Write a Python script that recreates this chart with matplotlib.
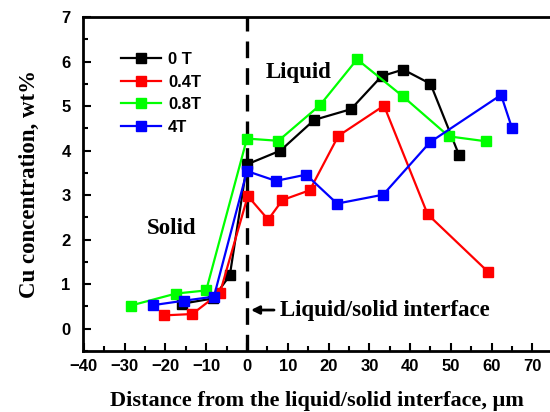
import matplotlib.pyplot as plt

# Cu concentration profiles across the liquid/solid interface
x_0T = [-16, -8.3, -4.2, 0, 8.2, 16.5, 25.5, 33, 38.3, 45, 52]
y_0T = [0.56, 0.68, 1.2, 3.69, 4.0, 4.69, 4.93, 5.67, 5.82, 5.5, 3.9]

x_04T = [-20.3, -13.4, -6.6, 0.2, 5.2, 8.7, 15.4, 22.4, 33.6, 44.3, 59.2]
y_04T = [0.30, 0.33, 0.81, 2.98, 2.45, 2.89, 3.11, 4.33, 5.01, 2.57, 1.27]

x_08T = [-28.5, -17.4, -10, 0, 7.7, 17.9, 27, 38.2, 49.5, 58.5]
y_08T = [0.52, 0.79, 0.86, 4.27, 4.22, 5.02, 6.05, 5.22, 4.32, 4.21]

x_4T = [-23, -15.4, -8.1, 0, 7.1, 14.5, 22.1, 33.4, 44.9, 62.3, 65]
y_4T = [0.53, 0.63, 0.72, 3.54, 3.32, 3.46, 2.81, 3.01, 4.19, 5.25, 4.5]

series = [
    ("0 T", x_0T, y_0T, "black"),
    ("0.4T", x_04T, y_04T, "#ff0000"),
    ("0.8T", x_08T, y_08T, "#00ff00"),
    ("4T", x_4T, y_4T, "#0000ff"),
]

serif = ["Liberation Serif", "DejaVu Serif"]
sans = ["Liberation Sans", "DejaVu Sans"]

fig = plt.figure(figsize=(5.5, 4.12), dpi=100)
ax = fig.add_axes([83 / 550, 1 - 351 / 412, 467 / 550, 334 / 412])

for label, xs, ys, c in series:
    ax.plot(xs, ys, color=c, lw=1.6, marker="s", ms=6.5, label=label, zorder=3)

# interface
ax.axvline(0, color="black", lw=2.4, ls=(0, (5, 3)), zorder=2)

ax.set_xlim(-40.2, 74.3)
ax.set_ylim(-0.5, 7)
ax.set_xticks(range(-40, 71, 10))
ax.set_xticks(range(-35, 75, 10), minor=True)
ax.set_yticks(range(0, 8))
ax.set_yticks([i + 0.5 for i in range(-1, 7)], minor=True)
ax.tick_params(which="both", direction="in", width=1.5, labelsize=12, pad=6)
ax.tick_params(which="major", length=6)
ax.tick_params(which="minor", length=3.5)
ax.tick_params(axis="y", pad=9)
for lab in ax.get_xticklabels() + ax.get_yticklabels():
    lab.set_fontfamily(sans)
    lab.set_fontweight("bold")

for s in ["left", "bottom", "top"]:
    ax.spines[s].set_linewidth(2)
ax.spines["right"].set_visible(False)

ax.set_xlabel("Distance from the liquid/solid interface, μm", family=serif,
              fontsize=16, fontweight="bold", labelpad=12)
ax.set_ylabel("Cu concentration, wt%", family=serif, fontsize=16.5,
              fontweight="bold", labelpad=15)

ax.text(4.7, 5.75, "Liquid", family=serif, fontsize=16.5, fontweight="bold",
        va="center")
ax.text(-24.5, 2.25, "Solid", family=serif, fontsize=16.5, fontweight="bold",
        va="center")
ax.annotate("Liquid/solid interface", xy=(0.3, 0.42), xytext=(8, 0.42),
            family=serif, fontsize=16.5, fontweight="bold", va="center",
            arrowprops=dict(arrowstyle="-|>", color="black", lw=2,
                            mutation_scale=12))

leg = ax.legend(loc="upper left", bbox_to_anchor=(0.05, 0.94), frameon=False,
                prop={"family": sans, "weight": "bold", "size": 12},
                handlelength=2.4, handletextpad=0.4, labelspacing=0.45)

fig.savefig("out.png", dpi=100)
